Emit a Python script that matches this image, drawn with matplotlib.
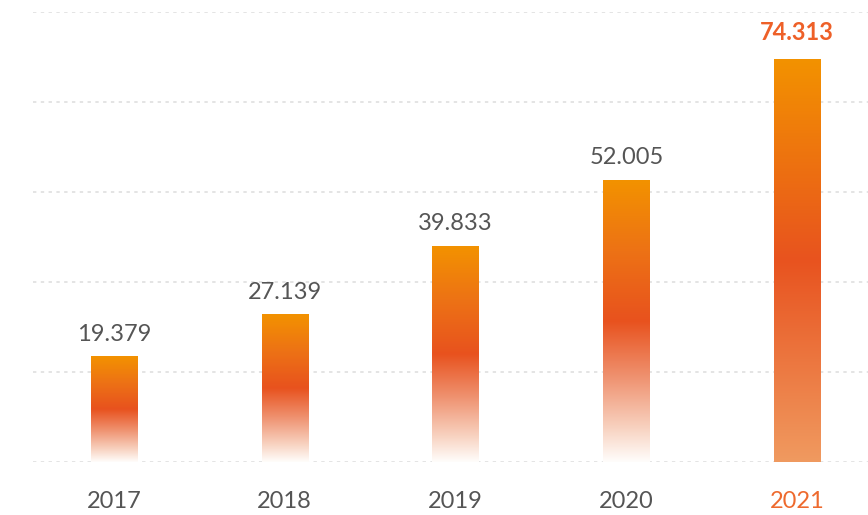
import numpy as np
import matplotlib
matplotlib.use("Agg")
import matplotlib.pyplot as plt
from matplotlib.colors import LinearSegmentedColormap

years = ["2017", "2018", "2019", "2020", "2021"]
values = [19.379, 27.139, 39.833, 52.005, 74.313]
labels = ["19.379", "27.139", "39.833", "52.005", "74.313"]

plt.rcParams['font.family'] = ['Lato', 'DejaVu Sans']

fade = LinearSegmentedColormap.from_list(
    "fade", [(0.0, "#fffdfb"), (0.12, "#f8d2c0"), (0.3, "#ef9270"),
             (0.5, "#e8521e"), (0.75, "#ed7215"), (1.0, "#f39200")])
solid = LinearSegmentedColormap.from_list(
    "solid", [(0.0, "#f09a60"), (0.5, "#e8531f"), (1.0, "#f39200")])

fig = plt.figure(figsize=(8.68, 5.15), dpi=100)
ax = fig.add_axes([33 / 868, 53 / 515, 835 / 868, 450 / 515])

x = np.arange(len(years))
bars = ax.bar(x, values, width=0.27, color="none", zorder=3)

grad = np.linspace(0, 1, 256).reshape(-1, 1)
for i, b in enumerate(bars):
    cmap = solid if i == len(bars) - 1 else fade
    x0, w, h = b.get_x(), b.get_width(), b.get_height()
    ax.imshow(grad, cmap=cmap, origin="lower", aspect="auto",
              extent=[x0, x0 + w, 0, h], zorder=3, interpolation="bicubic")

for i, b in enumerate(bars):
    cx = b.get_x() + b.get_width() / 2
    if i == len(bars) - 1:
        ax.annotate(labels[i], (cx, b.get_height()), xytext=(0, 14),
                    textcoords="offset points", ha="center", va="baseline",
                    fontsize=17, fontweight="bold", color="#ee6028")
    else:
        ax.annotate(labels[i], (cx, b.get_height()), xytext=(0, 11.5),
                    textcoords="offset points", ha="center", va="baseline",
                    fontsize=17, color="#555555")

ax.set_xlim(-0.474, 4.415)
ax.set_ylim(0, 83)
ax.set_yticks(np.linspace(0, 83, 6))
ax.yaxis.grid(True, color="#dcdcdc", linestyle=(0, (2.2, 2.9)), linewidth=1.1)
ax.set_axisbelow(True)
for s in ax.spines.values():
    s.set_visible(False)
ax.tick_params(axis="y", left=False, labelleft=False)
ax.set_xticks(x)
ax.set_xticklabels(years, fontsize=17, color="#555555")
ax.tick_params(axis="x", length=0, pad=21)
ax.get_xticklabels()[-1].set_color("#ee6a2e")

fig.savefig("out.png", dpi=100, facecolor="white")
